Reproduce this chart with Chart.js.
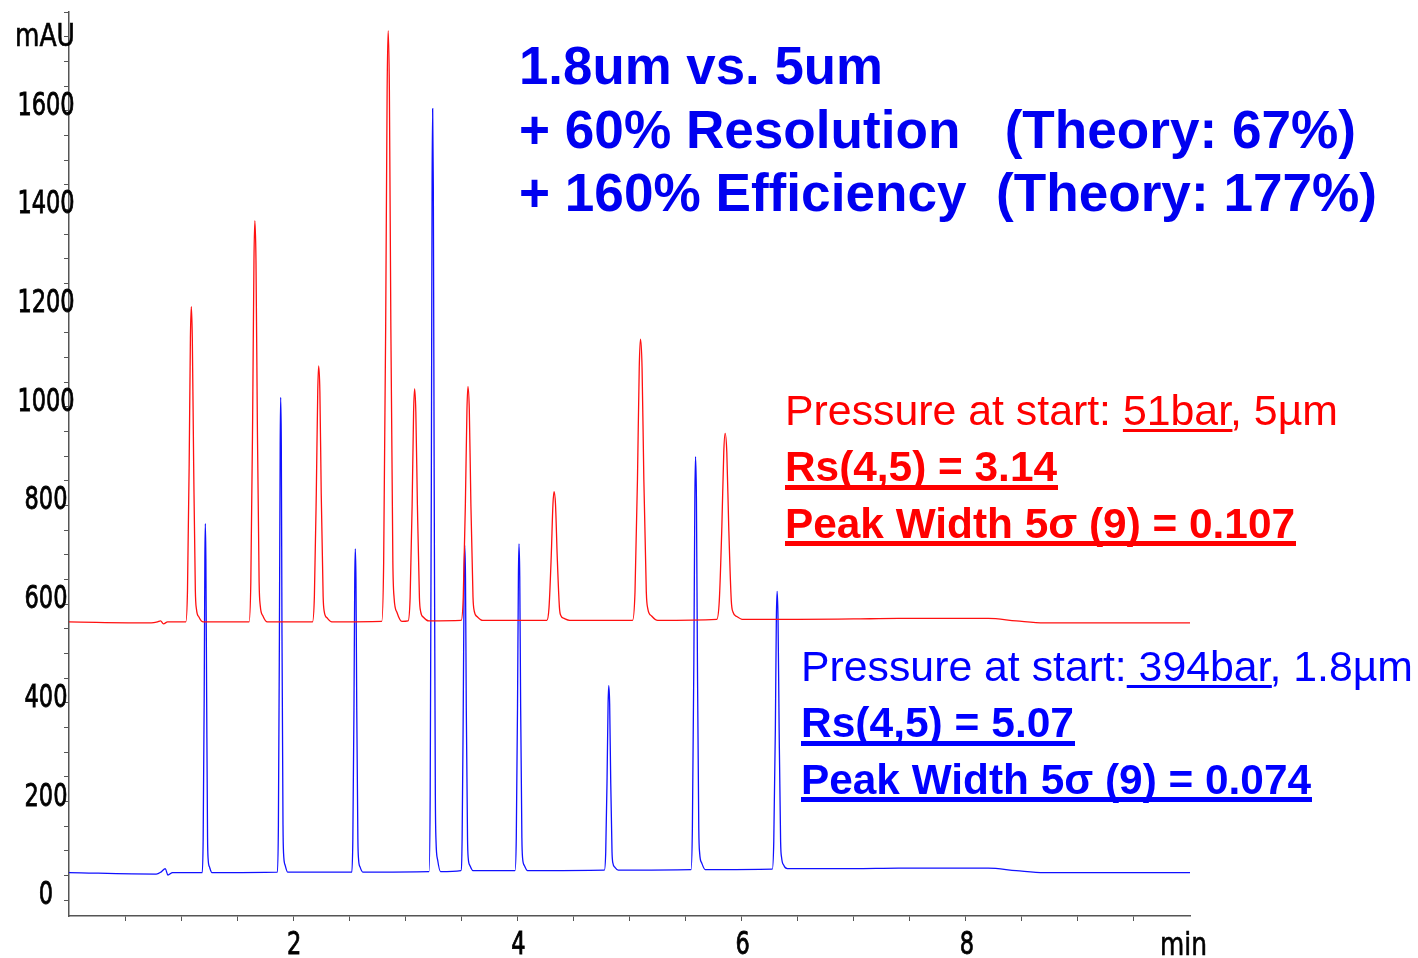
<!DOCTYPE html>
<html>
<head>
<meta charset="utf-8">
<script src="https://cdn.jsdelivr.net/npm/chart.js@4.4.0/dist/chart.umd.min.js"></script>
<style>
  html, body { margin: 0; padding: 0; background: #fff; }
  canvas { display: block; }
</style>
</head>
<body>
<canvas id="chrom" width="1418" height="958"></canvas>
<script>
// 5um column (red trace), time in min / absorbance in mAU
var red_time = [
  0, 0.733, 0.790, 0.817, 0.843, 0.879,
  1.042, 1.057, 1.072, 1.083, 1.091, 1.100, 1.112, 1.127, 1.137, 1.159, 1.197,
  1.606, 1.622, 1.638, 1.650, 1.658, 1.668, 1.680, 1.696, 1.706, 1.730, 1.770,
  2.172, 2.189, 2.206, 2.219, 2.227, 2.238, 2.250, 2.267, 2.277, 2.303, 2.345,
  2.790, 2.807, 2.825, 2.838, 2.847, 2.858, 2.871, 2.889, 2.900, 2.926, 2.970,
  3.025, 3.043, 3.061, 3.074, 3.083, 3.094, 3.108, 3.126, 3.137, 3.164, 3.209,
  3.498, 3.517, 3.536, 3.550, 3.559, 3.571, 3.585, 3.604, 3.615, 3.644, 3.691,
  4.262, 4.282, 4.302, 4.317, 4.327, 4.340, 4.355, 4.375, 4.387, 4.417, 4.467,
  5.027, 5.049, 5.071, 5.087, 5.098, 5.112, 5.128, 5.150, 5.164, 5.197, 5.252,
  5.778, 5.801, 5.824, 5.841, 5.853, 5.868, 5.885, 5.908, 5.923, 5.957, 6.015,
  6.5, 7.0, 7.4, 8.2, 8.45, 8.7, 10
];
var red_mau = [
  564, 562, 564, 566, 560, 564,
  564, 628, 884, 1139, 1203, 1139, 884, 628, 590, 574, 564,
  564, 645, 971, 1296, 1377, 1296, 971, 645, 597, 576, 564,
  564, 616, 824, 1031, 1083, 1031, 824, 616, 585, 572, 564,
  565, 685, 1164, 1642, 1762, 1642, 1164, 685, 613, 583, 565,
  566, 613, 801, 989, 1036, 989, 801, 613, 585, 573, 566,
  567, 614, 804, 994, 1041, 994, 804, 614, 586, 574, 567,
  567, 593, 698, 802, 828, 802, 698, 593, 577, 571, 567,
  567, 624, 852, 1080, 1137, 1080, 852, 624, 590, 576, 567,
  569, 607, 758, 908, 946, 908, 758, 607, 584, 575, 569,
  569, 570, 571, 571, 566, 562, 562
];

// 1.8um column (blue trace)
var blue_time = [
  0, 0.778, 0.820, 0.859, 0.882, 0.924,
  1.189, 1.197, 1.206, 1.212, 1.216, 1.221, 1.228, 1.236, 1.241, 1.254, 1.275,
  1.859, 1.868, 1.877, 1.884, 1.888, 1.894, 1.900, 1.909, 1.914, 1.928, 1.950,
  2.523, 2.532, 2.542, 2.549, 2.554, 2.560, 2.567, 2.577, 2.583, 2.597, 2.621,
  3.212, 3.222, 3.232, 3.239, 3.244, 3.250, 3.258, 3.268, 3.274, 3.289, 3.314,
  3.496, 3.507, 3.517, 3.525, 3.530, 3.537, 3.544, 3.555, 3.561, 3.577, 3.603,
  3.979, 3.990, 4.001, 4.009, 4.014, 4.021, 4.029, 4.040, 4.046, 4.063, 4.090,
  4.776, 4.788, 4.800, 4.809, 4.815, 4.823, 4.832, 4.844, 4.851, 4.869, 4.899,
  5.549, 5.561, 5.574, 5.583, 5.589, 5.597, 5.606, 5.618, 5.626, 5.645, 5.676,
  6.274, 6.287, 6.301, 6.310, 6.317, 6.325, 6.335, 6.348, 6.357, 6.376, 6.409,
  7.0, 7.4, 8.2, 8.45, 8.7, 10
];
var blue_mau = [
  56, 53, 57, 64, 51, 56,
  56, 127, 410, 692, 763, 692, 410, 127, 84, 67, 56,
  57, 153, 538, 923, 1019, 923, 538, 153, 95, 71, 57,
  57, 123, 385, 647, 712, 647, 385, 123, 83, 67, 57,
  58, 213, 831, 1449, 1604, 1449, 831, 213, 120, 81, 58,
  60, 126, 390, 653, 719, 653, 390, 126, 86, 70, 60,
  60, 126, 391, 656, 722, 656, 391, 126, 86, 70, 60,
  61, 98, 248, 398, 435, 398, 248, 98, 76, 67, 61,
  62, 146, 481, 815, 899, 815, 481, 146, 95, 75, 62,
  63, 119, 345, 570, 626, 570, 345, 119, 86, 71, 64,
  64, 65, 65, 60, 56, 56
];

var x_labels = [2, 4, 6, 8];
var y_labels = [0, 200, 400, 600, 800, 1000, 1200, 1400, 1600];

var title_lines = [
  '1.8um vs. 5um',
  '+ 60% Resolution   (Theory: 67%)',
  '+ 160% Efficiency  (Theory: 177%)'
];
var red_notes = ['Pressure at start: ', '51bar', ', 5\u00b5m', 'Rs(4,5) = 3.14', 'Peak Width 5\u03c3 (9) = 0.107'];
var blue_notes = ['Pressure at start:', ' 394bar', ', 1.8\u00b5m', 'Rs(4,5) = 5.07', 'Peak Width 5\u03c3 (9) = 0.074'];

function pairs(t, v) {
  return t.map(function (x, i) { return { x: x, y: v[i] }; });
}

// narrow instrument-style axis font: condensed face squeezed a bit more
var AXIS_FONT = "32px 'DejaVu Sans Condensed', 'DejaVu Sans', sans-serif";
var AXIS_SQUEEZE = 0.78;

function squeezeText(ctx, str, x, y, align) {
  ctx.save();
  ctx.font = AXIS_FONT;
  ctx.fillStyle = '#000';
  ctx.strokeStyle = '#000';
  ctx.lineWidth = 0.8;
  ctx.textAlign = align;
  ctx.textBaseline = 'alphabetic';
  ctx.translate(x, y);
  ctx.scale(AXIS_SQUEEZE, 1);
  ctx.fillText(str, 0, 0);
  ctx.strokeText(str, 0, 0);
  ctx.restore();
}

function fitText(ctx, str, x, y, font, color, width, stroke) {
  ctx.font = font;
  var sx = width / ctx.measureText(str).width;
  ctx.save();
  ctx.translate(x, y);
  ctx.scale(sx, 1);
  ctx.fillStyle = color;
  ctx.textAlign = 'left';
  ctx.textBaseline = 'alphabetic';
  ctx.fillText(str, 0, 0);
  if (stroke) {
    ctx.strokeStyle = color;
    ctx.lineWidth = stroke;
    ctx.strokeText(str, 0, 0);
  }
  ctx.restore();
  return sx;
}

function noteBlock(ctx, notes, x, y0, color, w1, w2, w3) {
  var reg = "42px 'Liberation Sans', Arial, sans-serif";
  var bold = "bold 42px 'Liberation Sans', Arial, sans-serif";
  var line1 = notes[0] + notes[1] + notes[2];
  var sx = fitText(ctx, line1, x, y0, reg, color, w1);
  ctx.font = reg;
  var ux0 = x + ctx.measureText(notes[0]).width * sx;
  var ux1 = ux0 + ctx.measureText(notes[1]).width * sx;
  ctx.fillStyle = color;
  ctx.fillRect(ux0, y0 + 4, ux1 - ux0, 3);
  fitText(ctx, notes[3], x, y0 + 56, bold, color, w2);
  ctx.fillRect(x, y0 + 60, w2 + 1, 5);
  fitText(ctx, notes[4], x, y0 + 113, bold, color, w3);
  ctx.fillRect(x, y0 + 116, w3 + 1, 5);
}

// tick labels drawn at the scale's own pixel positions
var axisLabels = {
  id: 'axisLabels',
  afterDraw: function (chart) {
    var ctx = chart.ctx, xs = chart.scales.x, ys = chart.scales.y;
    y_labels.forEach(function (v) {
      squeezeText(ctx, String(v), ys.right - 23, ys.getPixelForValue(v) + 4, 'center');
    });
    x_labels.forEach(function (v) {
      squeezeText(ctx, String(v), xs.getPixelForValue(v) + 1, xs.top + 38, 'center');
    });
    fitText(ctx, 'mAU', 15, 46, AXIS_FONT, '#000', 60, 0.6);
    fitText(ctx, 'min', 1160, xs.top + 39, AXIS_FONT, '#000', 47, 0.6);
  }
};

var textPlugin = {
  id: 'notes',
  afterDraw: function (chart) {
    var ctx = chart.ctx;
    var tb = "bold 53px 'Liberation Sans', Arial, sans-serif";
    fitText(ctx, title_lines[0], 519, 84, tb, '#0000f0', 364);
    fitText(ctx, title_lines[1], 519, 148, tb, '#0000f0', 837);
    fitText(ctx, title_lines[2], 519, 211, tb, '#0000f0', 858);

    noteBlock(ctx, red_notes, 785, 425, '#ff0000', 553, 272, 510);
    noteBlock(ctx, blue_notes, 801, 681, '#0000ff', 612, 273, 510);
  }
};

new Chart(document.getElementById('chrom'), {
  type: 'line',
  data: {
    datasets: [
      {
        label: '5um',
        data: pairs(red_time, red_mau),
        borderColor: '#ff1010',
        borderWidth: 1.3,
        pointRadius: 0,
        cubicInterpolationMode: 'monotone'
      },
      {
        label: '1.8um',
        data: pairs(blue_time, blue_mau),
        borderColor: '#1010ff',
        borderWidth: 1.3,
        pointRadius: 0,
        cubicInterpolationMode: 'monotone'
      }
    ]
  },
  options: {
    responsive: false,
    animation: false,
    devicePixelRatio: 1,
    layout: { padding: { top: 12, right: 228, bottom: 0, left: 0 } },
    plugins: { legend: { display: false }, tooltip: { enabled: false } },
    scales: {
      x: {
        type: 'linear',
        min: 0,
        max: 10,
        border: { color: '#555', width: 1.5 },
        grid: {
          drawOnChartArea: false,
          tickLength: 5,
          tickColor: function (c) {
            return (c.tick && (c.tick.value === 0 || c.tick.value === 10)) ? 'rgba(0,0,0,0)' : '#555';
          }
        },
        ticks: { display: false, stepSize: 0.5, autoSkip: false },
        afterFit: function (s) {
          s.height = 42;
          s.paddingLeft = 0; s.paddingRight = 0; s.paddingTop = 0; s.paddingBottom = 0;
        }
      },
      y: {
        min: -32,
        max: 1800,
        border: { color: '#555', width: 1.5 },
        grid: { drawOnChartArea: false, tickLength: 5, tickColor: '#555' },
        ticks: { display: false, stepSize: 50, includeBounds: false, autoSkip: false },
        afterFit: function (s) {
          s.width = 69;
          s.paddingLeft = 0; s.paddingRight = 0; s.paddingTop = 0; s.paddingBottom = 0;
        }
      }
    }
  },
  plugins: [axisLabels, textPlugin]
});
</script>
</body>
</html>
